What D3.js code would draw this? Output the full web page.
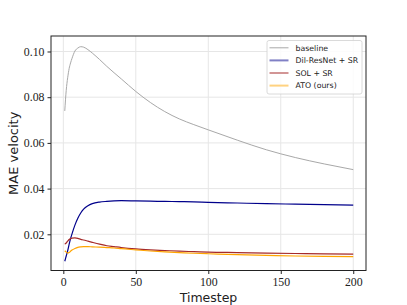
<!DOCTYPE html>
<html>
<head>
<meta charset="utf-8">
<script src="https://cdn.jsdelivr.net/npm/d3@7"></script>
<style>
  body { margin: 0; background: #fff; }
  svg { display: block; }
</style>
</head>
<body>
<div id="chart"></div>
<script>
// Values
const timesteps = [1, 2, 3, 4, 5, 6, 8, 10, 12, 14, 17, 20, 25, 30, 35, 40, 50, 60, 70, 80, 90, 100, 120, 140, 160, 180, 200];
const baseline = [0.074, 0.083, 0.0885, 0.0925, 0.095, 0.097, 0.1002, 0.1015, 0.1021, 0.1019, 0.1008, 0.0993, 0.0965, 0.0935, 0.0907, 0.088, 0.0825, 0.0777, 0.0737, 0.0705, 0.068, 0.0657, 0.0612, 0.057, 0.0536, 0.0508, 0.0483];
const dilResNet = [0.0082, 0.0105, 0.0128, 0.0156, 0.0181, 0.0202, 0.0240, 0.0270, 0.0293, 0.0310, 0.0325, 0.0334, 0.0341, 0.0344, 0.0346, 0.0347, 0.0346, 0.0345, 0.0344, 0.0343, 0.0342, 0.034, 0.0337, 0.0334, 0.0332, 0.033, 0.0328];
const sol = [0.0157, 0.0162, 0.017, 0.0177, 0.0181, 0.0183, 0.0184, 0.0182, 0.0178, 0.0175, 0.017, 0.0165, 0.0157, 0.015, 0.0146, 0.0142, 0.0136, 0.0132, 0.0129, 0.0126, 0.0124, 0.0122, 0.012, 0.0118, 0.0116, 0.0114, 0.0113];
const ato = [0.0128, 0.0122, 0.0118, 0.012, 0.0126, 0.0131, 0.0138, 0.0143, 0.0145, 0.0146, 0.0146, 0.0145, 0.0144, 0.0142, 0.014, 0.0137, 0.0132, 0.0127, 0.0123, 0.012, 0.0117, 0.0115, 0.0111, 0.0108, 0.0105, 0.0103, 0.0102];

const seriesNames = ['baseline', 'Dil-ResNet + SR', 'SOL + SR', 'ATO (ours)'];
const lineColors = ['#a8a8a8', '#00008b', '#a52a2a', '#ffa500'];
const legendColors = ['#a8a8a8', '#8080c5', '#d29595', '#ffd280'];
const xTicks = [0, 50, 100, 150, 200];
const yTicks = [0.02, 0.04, 0.06, 0.08, 0.10];

const width = 407;
const height = 305;
const margin = { top: 36, right: 41, bottom: 34.5, left: 51 };

const svg = d3.select('#chart')
    .append('svg')
    .attr('width', width)
    .attr('height', height);

const x = d3.scaleLinear()
    .domain([-8.5, 208.8])
    .range([margin.left, width - margin.right]);

const y = d3.scaleLinear()
    .domain([0.00416, 0.10678])
    .range([height - margin.bottom, margin.top]);

// grid
svg.append('g')
    .selectAll('line')
    .data(xTicks)
    .enter()
    .append('line')
    .attr('x1', d => x(d)).attr('x2', d => x(d))
    .attr('y1', margin.top).attr('y2', height - margin.bottom)
    .attr('stroke', '#e6e6e6')
    .attr('stroke-width', 1);

svg.append('g')
    .selectAll('line')
    .data(yTicks)
    .enter()
    .append('line')
    .attr('x1', margin.left).attr('x2', width - margin.right)
    .attr('y1', d => y(d)).attr('y2', d => y(d))
    .attr('stroke', '#e6e6e6')
    .attr('stroke-width', 1);

// axes
const xAxis = svg.append('g')
    .attr('transform', `translate(0,${height - margin.bottom})`)
    .call(d3.axisBottom(x).tickValues(xTicks).tickSize(3.5).tickPadding(4).tickFormat(d3.format('d')));

const yAxis = svg.append('g')
    .attr('transform', `translate(${margin.left},0)`)
    .call(d3.axisLeft(y).tickValues(yTicks).tickSize(3.5).tickPadding(3).tickFormat(d3.format('.2f')));

[xAxis, yAxis].forEach(a => {
    a.select('.domain').remove();
    a.selectAll('text')
        .attr('fill', '#222')
        .style('font-family', '"Liberation Serif", "DejaVu Serif", serif')
        .style('font-size', '11.8px');
    a.selectAll('line').attr('stroke', '#222');
});

// frame
svg.append('rect')
    .attr('x', margin.left)
    .attr('y', margin.top)
    .attr('width', width - margin.left - margin.right)
    .attr('height', height - margin.top - margin.bottom)
    .attr('fill', 'none')
    .attr('stroke', '#222')
    .attr('stroke-width', 1);

// lines
const allSeries = [baseline, dilResNet, sol, ato];

const line = d3.line()
    .x((d, i) => x(timesteps[i]))
    .y(d => y(d))
    .curve(d3.curveMonotoneX);

svg.append('g')
    .selectAll('path')
    .data(allSeries)
    .enter()
    .append('path')
    .attr('d', line)
    .attr('fill', 'none')
    .attr('stroke', (d, i) => lineColors[i])
    .attr('stroke-width', (d, i) => i === 0 ? 1 : 1.2);

// legend
const legend = svg.append('g').attr('transform', 'translate(267,40.5)');

legend.append('rect')
    .attr('width', 95)
    .attr('height', 53.5)
    .attr('rx', 2)
    .attr('fill', '#fff')
    .attr('fill-opacity', 0.85)
    .attr('stroke', '#d0d0d0')
    .attr('stroke-width', 0.8);

const items = legend.selectAll('g')
    .data(seriesNames)
    .enter()
    .append('g')
    .attr('transform', (d, i) => `translate(0,${7.3 + i * 12.6})`);

items.append('line')
    .attr('x1', 2.5).attr('x2', 21.5)
    .attr('stroke', (d, i) => legendColors[i])
    .attr('stroke-width', (d, i) => i === 0 ? 1 : 2);

items.append('text')
    .attr('x', 28.5)
    .attr('y', 2.8)
    .attr('fill', '#222')
    .style('font-family', '"DejaVu Sans", sans-serif')
    .style('font-size', '7.8px')
    .text(d => d);

// axis labels
svg.append('text')
    .attr('x', (margin.left + width - margin.right) / 2)
    .attr('y', 302)
    .attr('text-anchor', 'middle')
    .attr('fill', '#222')
    .style('font-family', '"DejaVu Sans", sans-serif')
    .style('font-size', '12.5px')
    .text('Timestep');

svg.append('text')
    .attr('transform', `translate(17.5,${(margin.top + height - margin.bottom) / 2}) rotate(-90)`)
    .attr('text-anchor', 'middle')
    .attr('fill', '#222')
    .style('font-family', '"DejaVu Sans", sans-serif')
    .style('font-size', '13px')
    .text('MAE velocity');
</script>
</body>
</html>
